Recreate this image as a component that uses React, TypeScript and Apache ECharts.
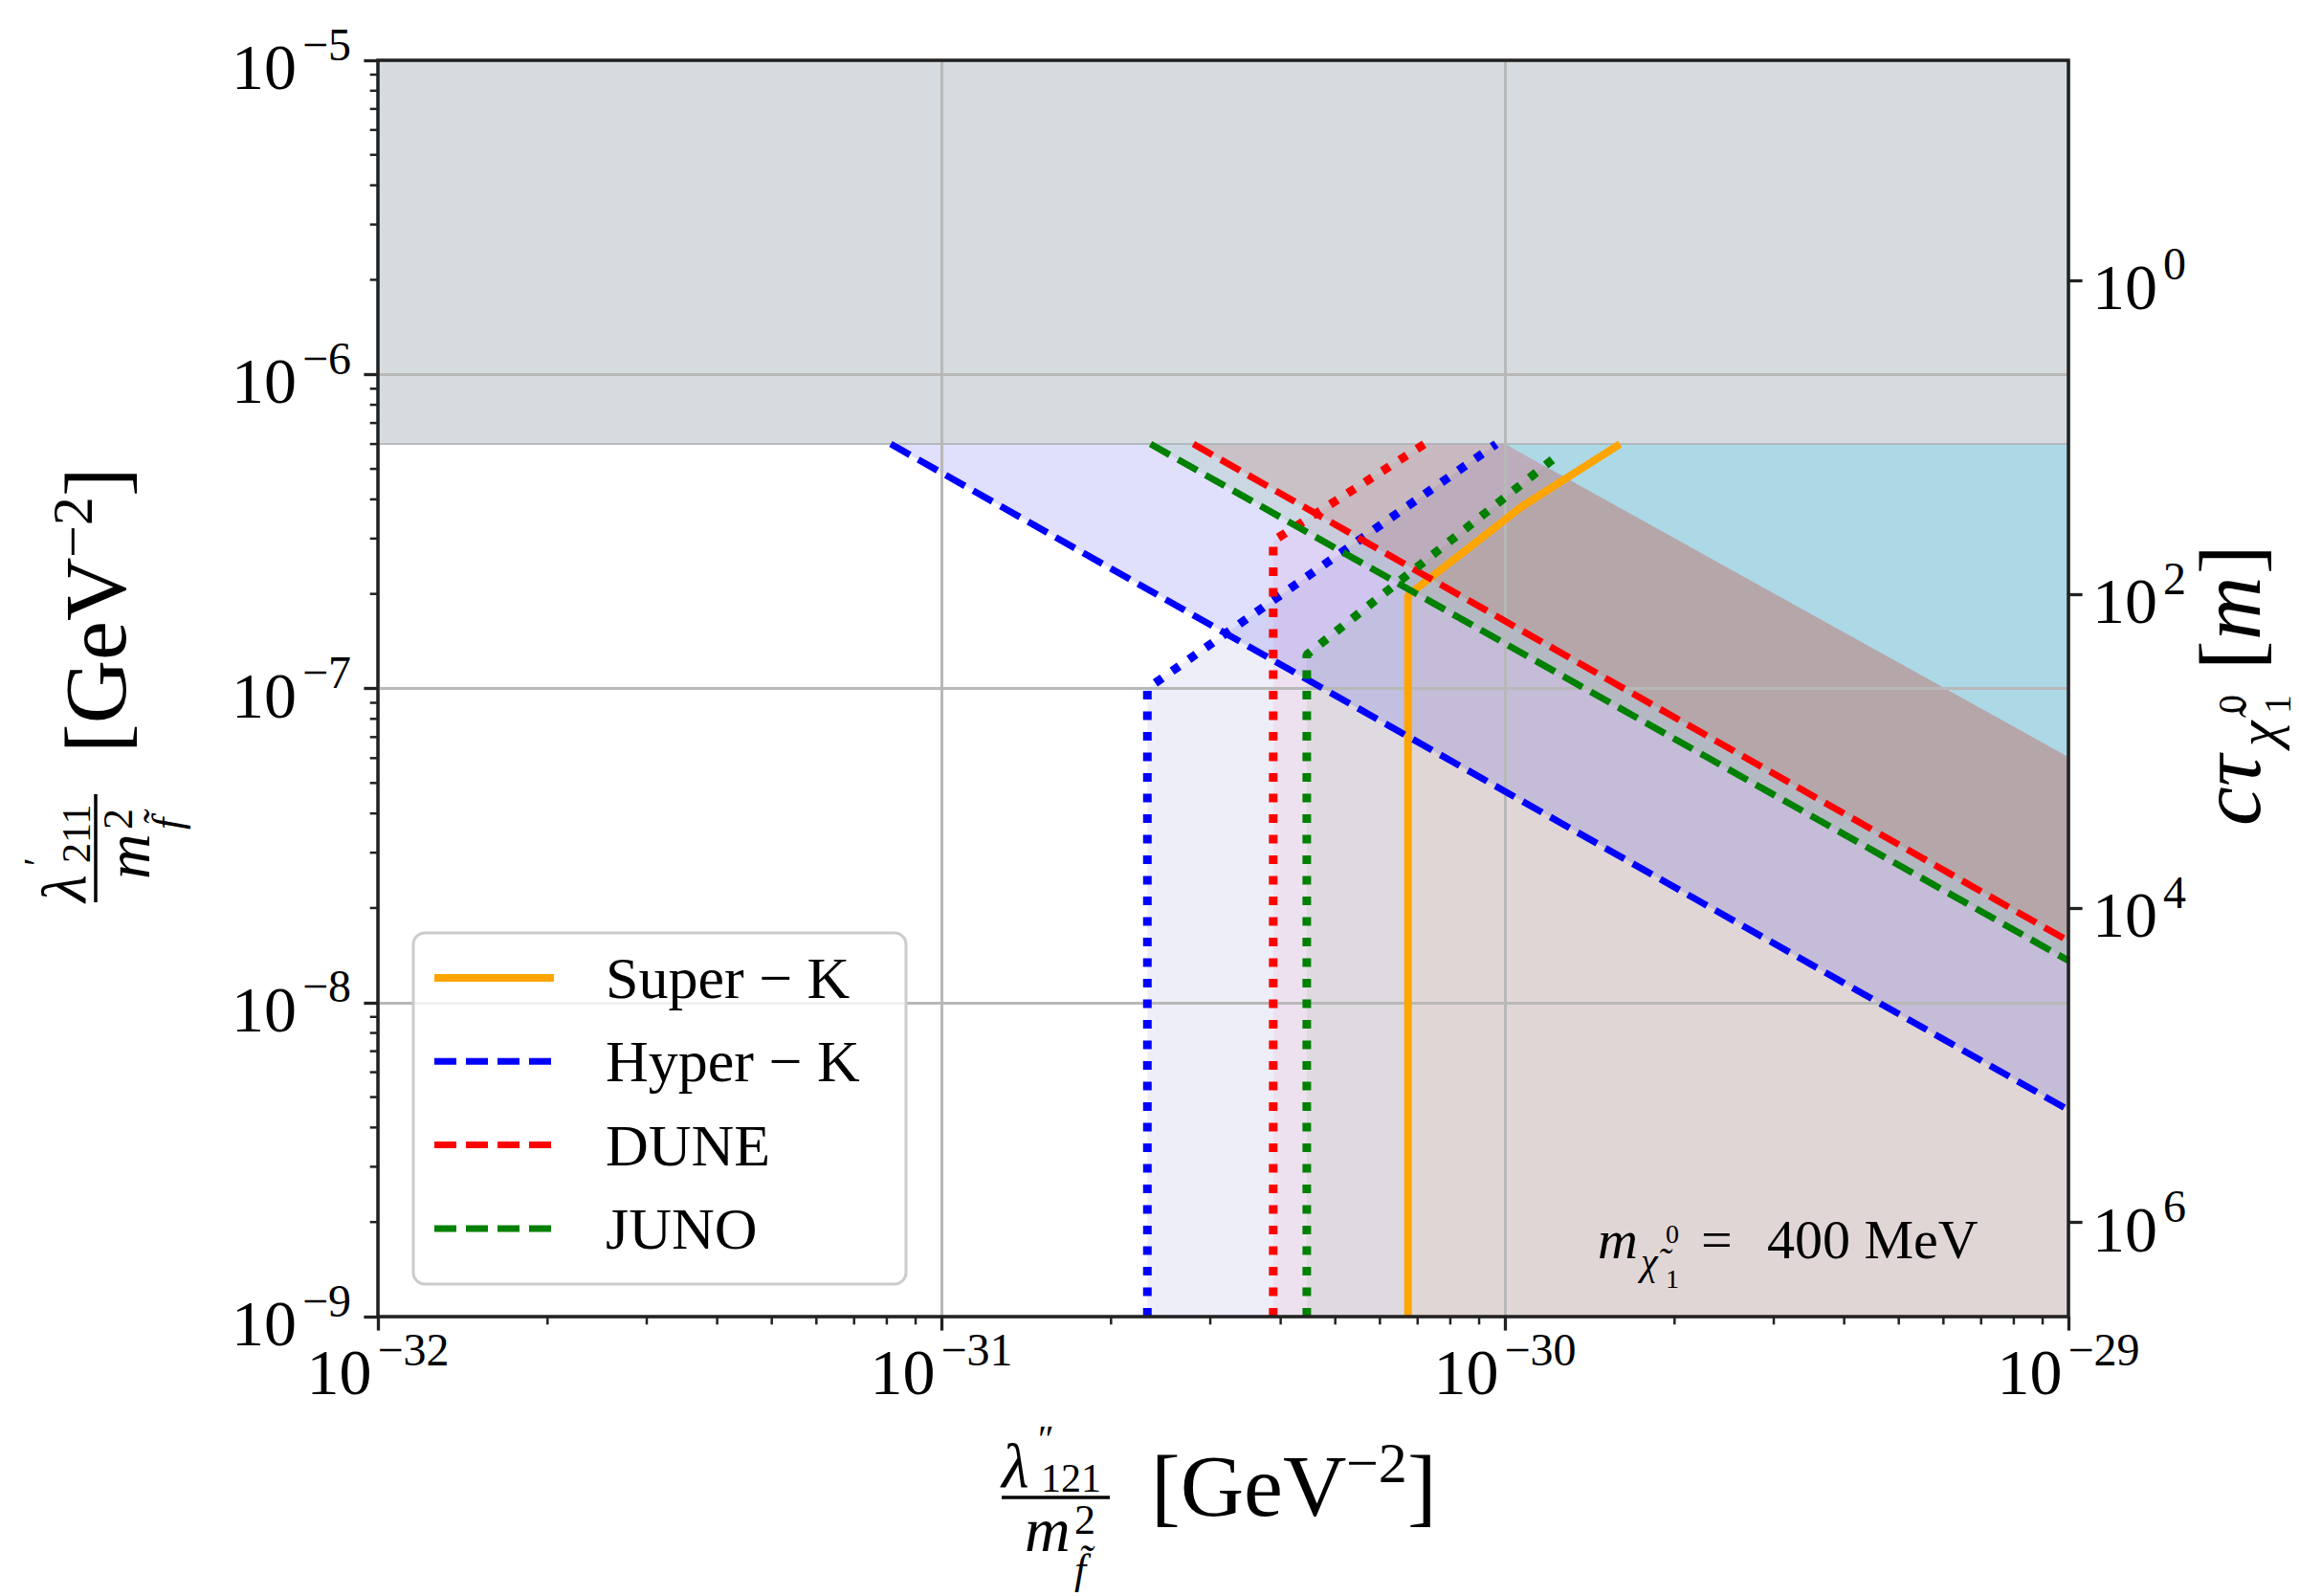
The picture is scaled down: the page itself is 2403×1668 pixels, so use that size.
import React, { useEffect, useRef } from 'react';
import * as echarts from 'echarts';

const W = 2403;
const H = 1668;
const FONT = '"Liberation Serif", "DejaVu Serif", "Times New Roman", serif';

// ---------- axes ----------
const X_MIN = 1e-32;
const X_MAX = 1e-29;
const Y_MIN = 1e-9;
const Y_MAX = 1e-5;
const X_MINOR_TICKS = [
  2e-32, 3e-32, 4e-32, 5e-32, 6e-32, 7e-32, 8e-32, 9e-32,
  2e-31, 3e-31, 4e-31, 5e-31, 6e-31, 7e-31, 8e-31, 9e-31,
  2e-30, 3e-30, 4e-30, 5e-30, 6e-30, 7e-30, 8e-30, 9e-30,
];
const Y_MINOR_TICKS = [
  2e-9, 3e-9, 4e-9, 5e-9, 6e-9, 7e-9, 8e-9, 9e-9,
  2e-8, 3e-8, 4e-8, 5e-8, 6e-8, 7e-8, 8e-8, 9e-8,
  2e-7, 3e-7, 4e-7, 5e-7, 6e-7, 7e-7, 8e-7, 9e-7,
  2e-6, 3e-6, 4e-6, 5e-6, 6e-6, 7e-6, 8e-6, 9e-6,
];
// right axis: log10(c*tau / m), reversed (top -> bottom)
const CTAU_LOG_TOP = -1.4;
const CTAU_LOG_BOTTOM = 6.6;
const CTAU_LOG_TICKS = [0, 2, 4, 6];

// lower edge of the grey excluded band
const BAND_EDGE = 6e-7;

// ---------- curves [lambda''/m^2, lambda'/m^2] in GeV^-2 ----------
const superK = [[6.73e-31, 1e-9], [6.73e-31, 1.98e-7], [1.07e-30, 3.79e-7], [1.6e-30, 6e-7]];
const superKBound = [[1e-30, 6e-7], [1e-29, 6.05e-8]];
const hyperKDashed = [[8.13e-32, 6e-7], [1e-29, 4.55e-9]];
const hyperKDotted = [[2.32e-31, 1e-9], [2.32e-31, 1e-7], [9.65e-31, 6e-7]];
const duneDashed = [[2.8e-31, 6e-7], [1e-29, 1.57e-8]];
const duneDotted = [[3.88e-31, 1e-9], [3.88e-31, 2.95e-7], [7.2e-31, 6e-7]];
const junoDashed = [[2.35e-31, 6e-7], [1e-29, 1.36e-8]];
const junoDotted = [[4.45e-31, 1e-9], [4.45e-31, 1.28e-7], [1.26e-30, 5.64e-7]];

const LEGEND = ['Super \u2212 K', 'Hyper \u2212 K', 'DUNE', 'JUNO'];
const LEGEND_COLORS = ['#ffa500', '#0000ff', '#ff0000', '#008000'];

// ECharts rounds axis extents to 20 decimals, so the x axis works in units of 1e-30 GeV^-2
const X_UNIT_EXP = -30;
const toAxisX = (x: number) => Number((x / Math.pow(10, X_UNIT_EXP)).toPrecision(12));
const scaleLine = (pts: number[][]) => pts.map(([x, y]) => [toAxisX(x), y]);

// ---------- region polygons built from the curves ----------
const aboveDashed = (line: number[][]) => [...line, [X_MAX, BAND_EDGE]];
const rightOfDotted = (line: number[][]) => {
  const last = line[line.length - 1];
  const pts = [...line];
  if (last[1] < BAND_EDGE) pts.push([last[0], BAND_EDGE]);
  pts.push([X_MAX, BAND_EDGE], [X_MAX, Y_MIN]);
  return pts;
};
const band = [[X_MIN, BAND_EDGE], [X_MAX, BAND_EDGE], [X_MAX, Y_MAX], [X_MIN, Y_MAX]];
const frame = [[X_MIN, Y_MIN], [X_MAX, Y_MIN], [X_MAX, Y_MAX], [X_MIN, Y_MAX]];

const polySeries = (name: string, raw: number[][], fill: string, stroke?: string, z = 1, lw = 2) => {
  const pts = scaleLine(raw);
  return {
    type: 'custom',
    name,
    z,
    silent: true,
    clip: false,
    coordinateSystem: 'cartesian2d',
    encode: { x: 0, y: 1 },
    data: pts,
    renderItem: (params: any, api: any) => {
      if (params.dataIndex !== 0) return null;
      const points = pts.map((p) => api.coord(p));
      return {
        type: 'polygon',
        shape: { points },
        style: { fill, stroke: stroke || 'none', lineWidth: stroke ? lw : 0 },
      };
    },
  };
};

const tickSeries = (name: string, values: number[], dir: 'x' | 'y', len: number, width: number) => ({
  type: 'custom',
  name,
  z: 5,
  silent: true,
  clip: false,
  coordinateSystem: 'cartesian2d',
  encode: { x: 0, y: 1 },
  data: values.map((v) => (dir === 'x' ? [toAxisX(v), Y_MIN] : [toAxisX(X_MIN), v])),
  renderItem: (params: any, api: any) => {
    const p = api.coord([api.value(0), api.value(1)]);
    const shape =
      dir === 'x'
        ? { x1: p[0], y1: p[1], x2: p[0], y2: p[1] + len }
        : { x1: p[0], y1: p[1], x2: p[0] - len, y2: p[1] };
    return { type: 'line', shape, style: { stroke: '#222', lineWidth: width } };
  },
});

const SOLID_W = 8;
const DASH_W = 7;
const DOT_W = 9;
const DASH = [23, 10];
const DOT = [9, 12.5];
const LEGEND_STYLES = [
  { width: SOLID_W, dash: null as any },
  { width: DASH_W, dash: DASH },
  { width: DASH_W, dash: DASH },
  { width: DASH_W, dash: DASH },
];
const lineSeries = (name: string, raw: number[][], color: string, width: number, type: any) => ({
  type: 'line',
  name,
  data: scaleLine(raw),
  z: 3,
  symbol: 'none',
  showSymbol: false,
  silent: true,
  clip: true,
  itemStyle: { color },
  lineStyle: { color, width, type, cap: 'butt' },
});

const expLabel = (e: number) => `{b|10}{e|${e < 0 ? '\u2212' + -e : e}}`;
const RICH = {
  b: { fontSize: 68, lineHeight: 82, verticalAlign: 'bottom', fontFamily: FONT, color: '#000' },
  e: { fontSize: 48, lineHeight: 48, verticalAlign: 'top', fontFamily: FONT, color: '#000', padding: [0, 0, 0, 6] },
};
const TICK = { color: '#222', width: 3.3 };
const GRIDLINE = { color: '#b8b8b8', width: 3 };

const txt = (x: number, base: number, text: string, size: number, italic = false, z = 20) => ({
  type: 'text',
  x,
  y: base - 0.3375 * size,
  z,
  silent: true,
  style: {
    text,
    fontSize: size,
    lineHeight: Math.round(size * 0.78),
    fontFamily: FONT,
    fontStyle: italic ? 'italic' : 'normal',
    fill: '#000',
    align: 'left',
    verticalAlign: 'middle',
    textAlign: 'left',
    textVerticalAlign: 'middle',
  },
});

const fracLabel = (prime: string, sub: string, gevShift: number) => [
  txt(-227, -11, '\u03bb', 66, true),
  txt(-189, -48, prime, 40),
  txt(-186, -6, sub, 42),
  {
    type: 'line',
    z: 20,
    silent: true,
    shape: { x1: -227, y1: 0, x2: -114, y2: 0 },
    style: { stroke: '#000', lineWidth: 3.5 },
  },
  txt(-203, 56, 'm', 66, true),
  txt(-151, 38, '2', 44),
  txt(-151, 90, 'f\u0303', 44, true),
  txt(-71, 19 + gevShift, '[GeV', 92),
  txt(133, -16 + gevShift, '\u22122', 60),
  txt(197, 19 + gevShift, ']', 92),
];

const ctauLabel = [
  txt(-147, 0, 'c', 92, true),
  txt(-106, 0, '\u03c4', 92, true),
  txt(-64, 18, '\u03c7\u0303', 60, true),
  txt(-30, -16, '0', 40),
  txt(-30, 32, '1', 40),
  txt(16, 0, '[', 92),
  txt(47, 0, 'm', 92, true),
  txt(116, 0, ']', 92),
];

const massNote = [
  txt(1670, 1315, 'm', 58, true),
  txt(1715, 1332, '\u03c7\u0303', 40, true),
  txt(1741, 1299, '0', 28),
  txt(1741, 1346, '1', 28),
  txt(1778, 1315, '=', 58),
  txt(1847, 1315, '400 MeV', 58),
];

// legend box (drawn as graphic so the line samples keep their dash patterns)
const LEG_BOX = { x: 432, y: 975, width: 515, height: 367 };
const LEG_ROW0 = 1022;
const LEG_STEP = 87.3;
const legendGraphic = () => {
  const out: any[] = [
    {
      type: 'rect',
      z: 30,
      silent: true,
      shape: { ...LEG_BOX, r: 12 },
      style: { fill: 'rgba(255,255,255,0.8)', stroke: '#cccccc', lineWidth: 3 },
    },
  ];
  LEGEND.forEach((name, i) => {
    const y = LEG_ROW0 + i * LEG_STEP;
    const s = LEGEND_STYLES[i];
    out.push({
      type: 'line',
      z: 31,
      silent: true,
      shape: { x1: 454, y1: y, x2: 579, y2: y },
      style: { stroke: LEGEND_COLORS[i], lineWidth: s.width, lineDash: s.dash, lineCap: 'butt' },
    });
    out.push(txt(633, y + 0.3375 * 62, name, 62, false, 31));
  });
  return out;
};

export default function App() {
  const ref = useRef<HTMLDivElement>(null);
  useEffect(() => {
    if (!ref.current) return;
    const chart = echarts.init(ref.current, undefined, { renderer: 'svg' });
    const option: any = {
      animation: false,
      backgroundColor: '#ffffff',
      grid: { left: 395, right: 241, top: 63, bottom: 292 },
      xAxis: [
        {
          type: 'log', logBase: 10, min: toAxisX(X_MIN), max: toAxisX(X_MAX), position: 'bottom', z: 2,
          axisLine: { show: false, onZero: false },
          axisTick: { show: true, inside: false, length: 14.6, lineStyle: TICK },
          axisLabel: {
            show: true, margin: 10,
            formatter: (v: number) => expLabel(Math.round(Math.log10(v)) + X_UNIT_EXP),
            rich: RICH, showMinLabel: true, showMaxLabel: true, hideOverlap: false,
          },
          splitLine: { show: true, lineStyle: GRIDLINE },
          minorTick: { show: false }, minorSplitLine: { show: false },
        },
      ],
      yAxis: [
        {
          type: 'log', logBase: 10, min: Y_MIN, max: Y_MAX, position: 'left', z: 2,
          axisLine: { show: false, onZero: false },
          axisTick: { show: true, inside: false, length: 14.6, lineStyle: TICK },
          axisLabel: {
            show: true, margin: 28,
            formatter: (v: number) => expLabel(Math.round(Math.log10(v))),
            rich: RICH, showMinLabel: true, showMaxLabel: true, hideOverlap: false,
          },
          splitLine: { show: true, lineStyle: GRIDLINE },
        },
        {
          type: 'value', min: CTAU_LOG_TOP, max: CTAU_LOG_BOTTOM, inverse: true, position: 'right', z: 2,
          axisLine: { show: false, onZero: false },
          axisTick: { show: true, inside: false, length: 14.6, lineStyle: TICK, customValues: CTAU_LOG_TICKS },
          axisLabel: { show: true, margin: 25, customValues: CTAU_LOG_TICKS, formatter: (v: number) => expLabel(v), rich: RICH },
          splitLine: { show: false },
        },
      ],
      graphic: [
        { type: 'group', x: 1274, y: 1565, children: fracLabel('\u2033', '121', 0) },
        { type: 'group', x: 100, y: 716, rotation: Math.PI / 2, children: fracLabel('\u2032', '211', 12) },
        { type: 'group', x: 2362, y: 716, rotation: Math.PI / 2, children: ctauLabel },
        ...massNote,
        ...legendGraphic(),
      ],
      series: [
        polySeries('Hyper-K region (dotted)', rightOfDotted(hyperKDotted), 'rgba(85,85,185,0.1)'),
        polySeries('DUNE region (dotted)', rightOfDotted(duneDotted), 'rgba(238,118,168,0.1)'),
        polySeries('JUNO region (dotted)', rightOfDotted(junoDotted), 'rgba(98,156,100,0.1)'),
        polySeries('Super-K region (solid)', rightOfDotted(superK), 'rgba(254,189,126,0.1)'),
        polySeries('Hyper-K region (dashed)', aboveDashed(hyperKDashed), 'rgba(0,0,230,0.12)'),
        polySeries('JUNO region (dashed)', aboveDashed(junoDashed), 'rgba(58,157,43,0.12)'),
        polySeries('DUNE region (dashed)', aboveDashed(duneDashed), 'rgba(191,44,0,0.12)'),
        polySeries('Super-K region (upper)', aboveDashed(superKBound), '#add8e6'),
        polySeries('Excluded', band, '#d6dbdf', 'rgba(170,175,180,0.8)'),
        lineSeries(LEGEND[0], superK, '#ffa500', SOLID_W, 'solid'),
        lineSeries(LEGEND[1], hyperKDashed, '#0000ff', DASH_W, DASH),
        lineSeries(LEGEND[1], hyperKDotted, '#0000ff', DOT_W, DOT),
        lineSeries(LEGEND[2], duneDashed, '#ff0000', DASH_W, DASH),
        lineSeries(LEGEND[2], duneDotted, '#ff0000', DOT_W, DOT),
        lineSeries(LEGEND[3], junoDashed, '#008000', DASH_W, DASH),
        lineSeries(LEGEND[3], junoDotted, '#008000', DOT_W, DOT),
        tickSeries('x minor ticks', X_MINOR_TICKS, 'x', 8.3, 2.5),
        tickSeries('y minor ticks', Y_MINOR_TICKS, 'y', 8.3, 2.5),
        polySeries('frame', frame, 'none', '#222', 6, 3.5),
      ],
    };
    chart.setOption(option);
    return () => chart.dispose();
  }, []);
  return (
    <div
      ref={ref}
      style={{ position: 'fixed', left: 0, top: 0, width: W, height: H, background: '#fff' }}
    />
  );
}
